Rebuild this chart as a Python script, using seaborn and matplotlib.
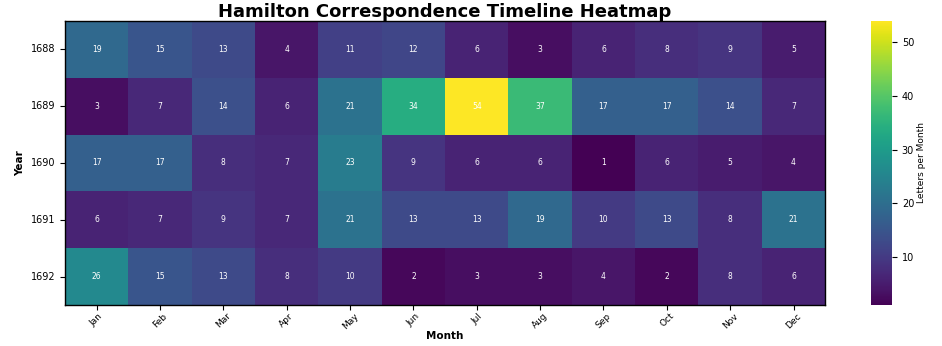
import numpy as np
import pandas as pd
import seaborn as sns
import matplotlib
matplotlib.use("Agg")
import matplotlib.pyplot as plt

years = [1688, 1689, 1690, 1691, 1692]
months = ["Jan", "Feb", "Mar", "Apr", "May", "Jun", "Jul", "Aug", "Sep", "Oct", "Nov", "Dec"]
y1688 = [19, 15, 13, 4, 11, 12, 6, 3, 6, 8, 9, 5]
y1689 = [3, 7, 14, 6, 21, 34, 54, 37, 17, 17, 14, 7]
y1690 = [17, 17, 8, 7, 23, 9, 6, 6, 1, 6, 5, 4]
y1691 = [6, 7, 9, 7, 21, 13, 13, 19, 10, 13, 8, 21]
y1692 = [26, 15, 13, 8, 10, 2, 3, 3, 4, 2, 8, 6]

df = pd.DataFrame([y1688, y1689, y1690, y1691, y1692], index=years, columns=months)

fig = plt.figure(figsize=(9.42, 3.46), dpi=100)
ax = fig.add_axes([0.069, 0.118, 0.807, 0.822])
cax = fig.add_axes([0.925, 0.118, 0.022, 0.822])
sns.heatmap(df, ax=ax, cbar_ax=cax, cmap="viridis", annot=True, fmt="d",
            annot_kws={"color": "white", "fontsize": 5.5},
            cbar_kws={"label": "Letters per Month"})
for s in ax.spines.values():
    s.set_visible(True)
    s.set_color("black")
    s.set_linewidth(1.0)
ax.set_title("Hamilton Correspondence Timeline Heatmap", fontsize=13, fontweight="bold", pad=3)
ax.set_xlabel("Month", fontsize=7.5, fontweight="bold", labelpad=0)
ax.set_ylabel("Year", fontsize=7.5, fontweight="bold")
ax.set_xticklabels(months, rotation=45, fontsize=6.5)
ax.set_yticklabels([str(y) for y in years], rotation=0, fontsize=7)
ax.tick_params(axis="x", pad=1)
cax.tick_params(labelsize=7)
cax.yaxis.label.set_size(6.5)
cax.yaxis.labelpad = 2
fig.savefig("out.png", dpi=100)
